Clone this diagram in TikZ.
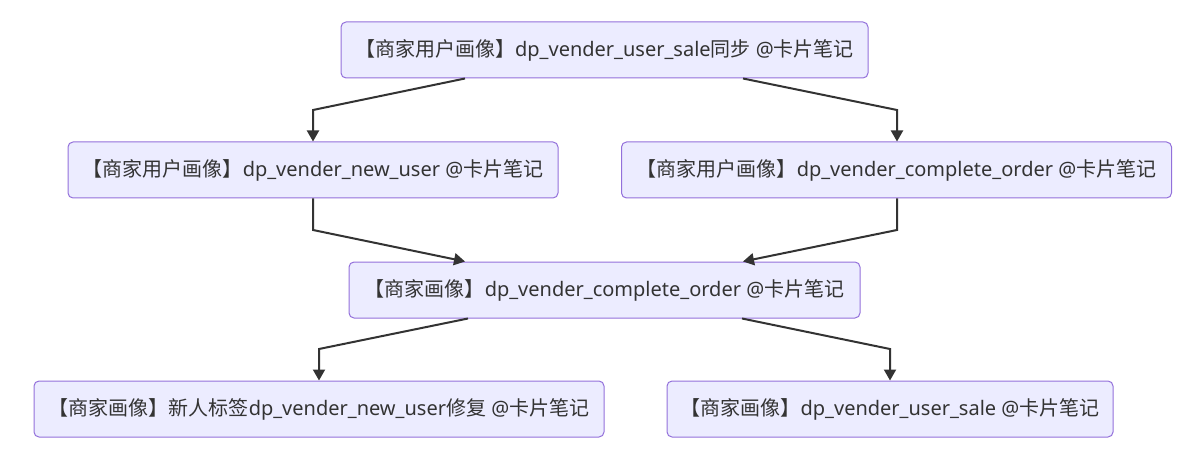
\documentclass[tikz,border=0pt]{standalone}
\usepackage{fontspec}
\setmainfont{Noto Sans}
\newfontfamily\cjkf{Noto Sans CJK SC}
\usetikzlibrary{arrows.meta}
\newcommand\zh[1]{{\cjkf #1}}
\definecolor{nodefill}{HTML}{ECECFF}
\definecolor{nodeline}{HTML}{9370DB}
\definecolor{edgecol}{HTML}{333333}
\begin{document}
\begin{tikzpicture}[x=1pt,y=-1pt,
  box/.style={draw=nodeline, fill=nodefill, line width=1pt, rounded corners=5pt,
    minimum height=56pt, inner sep=0pt, text=edgecol,
    font=\fontsize{20}{24}\selectfont},
  edge/.style={draw=edgecol, line width=2pt, -{Triangle[width=12pt,length=11pt]}}]
\useasboundingbox (0,0) rectangle (1198,462);
\node[box, minimum width=527pt] (n1) at (604.5,50) {\zh{【商家用户画像】}dp\_vender\_user\_sale\zh{同步} @\zh{卡片笔记}};
\node[box, minimum width=490pt] (n2) at (313,170) {\zh{【商家用户画像】}dp\_vender\_new\_user @\zh{卡片笔记}};
\node[box, minimum width=550pt] (n3) at (896.5,170) {\zh{【商家用户画像】}dp\_vender\_complete\_order @\zh{卡片笔记}};
\node[box, minimum width=511pt] (n4) at (604.5,290) {\zh{【商家画像】}dp\_vender\_complete\_order @\zh{卡片笔记}};
\node[box, minimum width=570pt] (n5) at (319,409) {\zh{【商家画像】新人标签}dp\_vender\_new\_user\zh{修复} @\zh{卡片笔记}};
\node[box, minimum width=446pt] (n6) at (890,409) {\zh{【商家画像】}dp\_vender\_user\_sale @\zh{卡片笔记}};
\coordinate (b1) at (313,110);
\coordinate (b2) at (897,110);
\coordinate (b3) at (313,230);
\coordinate (b4) at (897,230);
\coordinate (b5) at (319,349);
\coordinate (b6) at (890,349);
\draw[edge] (n1.south -| 465,0) -- (b1) -- (b1 |- n2.north);
\draw[edge] (n1.south -| 743,0) -- (b2) -- (b2 |- n3.north);
\draw[edge] (b3 |- n2.south) -- (b3) -- (n4.north -| 465,0);
\draw[edge] (b4 |- n3.south) -- (b4) -- (n4.north -| 743,0);
\draw[edge] (n4.south -| 468,0) -- (b5) -- (b5 |- n5.north);
\draw[edge] (n4.south -| 742,0) -- (b6) -- (b6 |- n6.north);
\end{tikzpicture}
\end{document}
